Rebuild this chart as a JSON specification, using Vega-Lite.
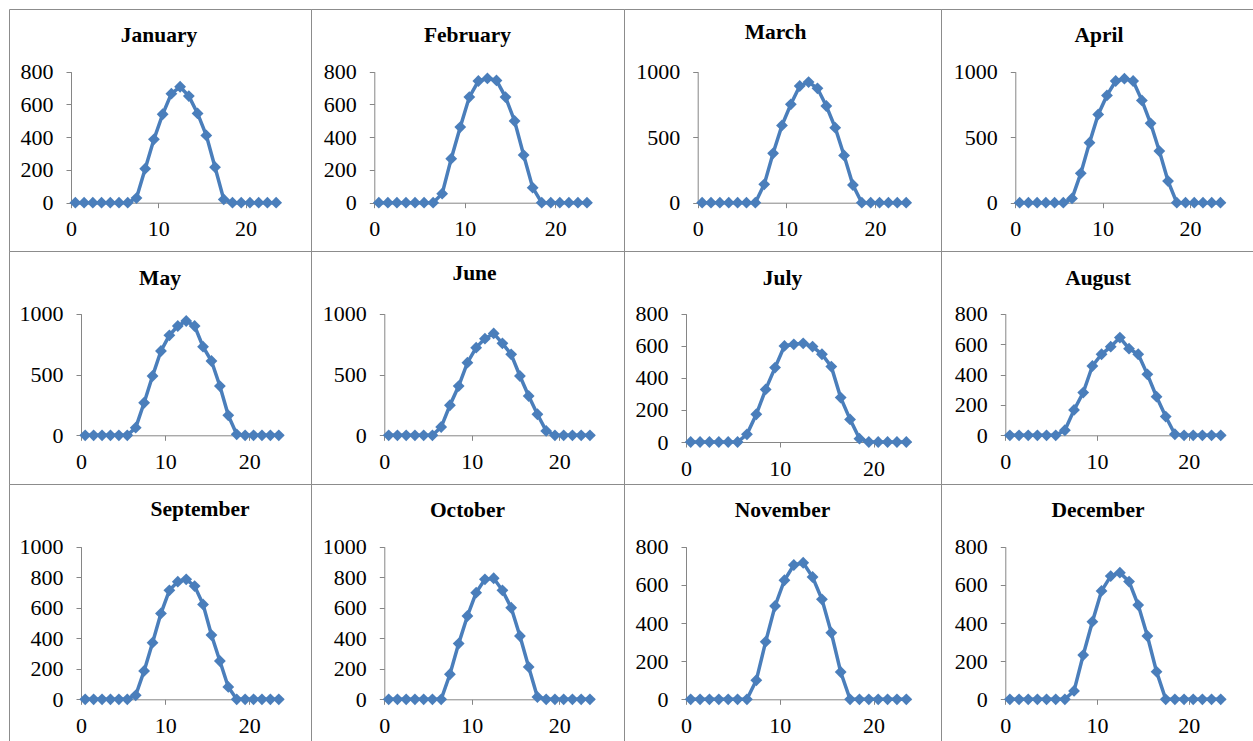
{
"$schema": "https://vega.github.io/schema/vega-lite/v6.json",
"padding": {"left": 8, "top": 8, "right": 0, "bottom": 0},
"background": "white",
"datasets": {"solar": [
{"month":"January","hour":0.5,"value":0},{"month":"January","hour":1.5,"value":0},{"month":"January","hour":2.5,"value":0},{"month":"January","hour":3.5,"value":0},{"month":"January","hour":4.5,"value":0},{"month":"January","hour":5.5,"value":0},{"month":"January","hour":6.5,"value":0},{"month":"January","hour":7.5,"value":28},{"month":"January","hour":8.5,"value":208},{"month":"January","hour":9.5,"value":387},{"month":"January","hour":10.5,"value":540},{"month":"January","hour":11.5,"value":666},{"month":"January","hour":12.5,"value":708},{"month":"January","hour":13.5,"value":651},{"month":"January","hour":14.5,"value":545},{"month":"January","hour":15.5,"value":411},{"month":"January","hour":16.5,"value":217},{"month":"January","hour":17.5,"value":20},{"month":"January","hour":18.5,"value":0},{"month":"January","hour":19.5,"value":0},{"month":"January","hour":20.5,"value":0},{"month":"January","hour":21.5,"value":0},{"month":"January","hour":22.5,"value":0},{"month":"January","hour":23.5,"value":0},
{"month":"February","hour":0.5,"value":0},{"month":"February","hour":1.5,"value":0},{"month":"February","hour":2.5,"value":0},{"month":"February","hour":3.5,"value":0},{"month":"February","hour":4.5,"value":0},{"month":"February","hour":5.5,"value":0},{"month":"February","hour":6.5,"value":0},{"month":"February","hour":7.5,"value":55},{"month":"February","hour":8.5,"value":269},{"month":"February","hour":9.5,"value":462},{"month":"February","hour":10.5,"value":645},{"month":"February","hour":11.5,"value":743},{"month":"February","hour":12.5,"value":759},{"month":"February","hour":13.5,"value":747},{"month":"February","hour":14.5,"value":645},{"month":"February","hour":15.5,"value":499},{"month":"February","hour":16.5,"value":291},{"month":"February","hour":17.5,"value":92},{"month":"February","hour":18.5,"value":0},{"month":"February","hour":19.5,"value":0},{"month":"February","hour":20.5,"value":0},{"month":"February","hour":21.5,"value":0},{"month":"February","hour":22.5,"value":0},{"month":"February","hour":23.5,"value":0},
{"month":"March","hour":0.5,"value":0},{"month":"March","hour":1.5,"value":0},{"month":"March","hour":2.5,"value":0},{"month":"March","hour":3.5,"value":0},{"month":"March","hour":4.5,"value":0},{"month":"March","hour":5.5,"value":0},{"month":"March","hour":6.5,"value":0},{"month":"March","hour":7.5,"value":140},{"month":"March","hour":8.5,"value":377},{"month":"March","hour":9.5,"value":590},{"month":"March","hour":10.5,"value":751},{"month":"March","hour":11.5,"value":891},{"month":"March","hour":12.5,"value":921},{"month":"March","hour":13.5,"value":873},{"month":"March","hour":14.5,"value":738},{"month":"March","hour":15.5,"value":573},{"month":"March","hour":16.5,"value":361},{"month":"March","hour":17.5,"value":135},{"month":"March","hour":18.5,"value":0},{"month":"March","hour":19.5,"value":0},{"month":"March","hour":20.5,"value":0},{"month":"March","hour":21.5,"value":0},{"month":"March","hour":22.5,"value":0},{"month":"March","hour":23.5,"value":0},
{"month":"April","hour":0.5,"value":0},{"month":"April","hour":1.5,"value":0},{"month":"April","hour":2.5,"value":0},{"month":"April","hour":3.5,"value":0},{"month":"April","hour":4.5,"value":0},{"month":"April","hour":5.5,"value":0},{"month":"April","hour":6.5,"value":33},{"month":"April","hour":7.5,"value":224},{"month":"April","hour":8.5,"value":458},{"month":"April","hour":9.5,"value":674},{"month":"April","hour":10.5,"value":819},{"month":"April","hour":11.5,"value":929},{"month":"April","hour":12.5,"value":947},{"month":"April","hour":13.5,"value":929},{"month":"April","hour":14.5,"value":781},{"month":"April","hour":15.5,"value":606},{"month":"April","hour":16.5,"value":394},{"month":"April","hour":17.5,"value":165},{"month":"April","hour":18.5,"value":0},{"month":"April","hour":19.5,"value":0},{"month":"April","hour":20.5,"value":0},{"month":"April","hour":21.5,"value":0},{"month":"April","hour":22.5,"value":0},{"month":"April","hour":23.5,"value":0},
{"month":"May","hour":0.5,"value":0},{"month":"May","hour":1.5,"value":0},{"month":"May","hour":2.5,"value":0},{"month":"May","hour":3.5,"value":0},{"month":"May","hour":4.5,"value":0},{"month":"May","hour":5.5,"value":0},{"month":"May","hour":6.5,"value":63},{"month":"May","hour":7.5,"value":268},{"month":"May","hour":8.5,"value":488},{"month":"May","hour":9.5,"value":693},{"month":"May","hour":10.5,"value":822},{"month":"May","hour":11.5,"value":899},{"month":"May","hour":12.5,"value":940},{"month":"May","hour":13.5,"value":899},{"month":"May","hour":14.5,"value":729},{"month":"May","hour":15.5,"value":611},{"month":"May","hour":16.5,"value":405},{"month":"May","hour":17.5,"value":164},{"month":"May","hour":18.5,"value":8},{"month":"May","hour":19.5,"value":0},{"month":"May","hour":20.5,"value":0},{"month":"May","hour":21.5,"value":0},{"month":"May","hour":22.5,"value":0},{"month":"May","hour":23.5,"value":0},
{"month":"June","hour":0.5,"value":0},{"month":"June","hour":1.5,"value":0},{"month":"June","hour":2.5,"value":0},{"month":"June","hour":3.5,"value":0},{"month":"June","hour":4.5,"value":0},{"month":"June","hour":5.5,"value":0},{"month":"June","hour":6.5,"value":68},{"month":"June","hour":7.5,"value":247},{"month":"June","hour":8.5,"value":405},{"month":"June","hour":9.5,"value":597},{"month":"June","hour":10.5,"value":721},{"month":"June","hour":11.5,"value":795},{"month":"June","hour":12.5,"value":838},{"month":"June","hour":13.5,"value":756},{"month":"June","hour":14.5,"value":666},{"month":"June","hour":15.5,"value":488},{"month":"June","hour":16.5,"value":323},{"month":"June","hour":17.5,"value":173},{"month":"June","hour":18.5,"value":36},{"month":"June","hour":19.5,"value":0},{"month":"June","hour":20.5,"value":0},{"month":"June","hour":21.5,"value":0},{"month":"June","hour":22.5,"value":0},{"month":"June","hour":23.5,"value":0},
{"month":"July","hour":0.5,"value":0},{"month":"July","hour":1.5,"value":0},{"month":"July","hour":2.5,"value":0},{"month":"July","hour":3.5,"value":0},{"month":"July","hour":4.5,"value":0},{"month":"July","hour":5.5,"value":0},{"month":"July","hour":6.5,"value":48},{"month":"July","hour":7.5,"value":173},{"month":"July","hour":8.5,"value":328},{"month":"July","hour":9.5,"value":464},{"month":"July","hour":10.5,"value":599},{"month":"July","hour":11.5,"value":609},{"month":"July","hour":12.5,"value":615},{"month":"July","hour":13.5,"value":595},{"month":"July","hour":14.5,"value":547},{"month":"July","hour":15.5,"value":470},{"month":"July","hour":16.5,"value":277},{"month":"July","hour":17.5,"value":141},{"month":"July","hour":18.5,"value":21},{"month":"July","hour":19.5,"value":0},{"month":"July","hour":20.5,"value":0},{"month":"July","hour":21.5,"value":0},{"month":"July","hour":22.5,"value":0},{"month":"July","hour":23.5,"value":0},
{"month":"August","hour":0.5,"value":0},{"month":"August","hour":1.5,"value":0},{"month":"August","hour":2.5,"value":0},{"month":"August","hour":3.5,"value":0},{"month":"August","hour":4.5,"value":0},{"month":"August","hour":5.5,"value":0},{"month":"August","hour":6.5,"value":33},{"month":"August","hour":7.5,"value":167},{"month":"August","hour":8.5,"value":281},{"month":"August","hour":9.5,"value":456},{"month":"August","hour":10.5,"value":533},{"month":"August","hour":11.5,"value":583},{"month":"August","hour":12.5,"value":643},{"month":"August","hour":13.5,"value":570},{"month":"August","hour":14.5,"value":533},{"month":"August","hour":15.5,"value":401},{"month":"August","hour":16.5,"value":254},{"month":"August","hour":17.5,"value":123},{"month":"August","hour":18.5,"value":7},{"month":"August","hour":19.5,"value":0},{"month":"August","hour":20.5,"value":0},{"month":"August","hour":21.5,"value":0},{"month":"August","hour":22.5,"value":0},{"month":"August","hour":23.5,"value":0},
{"month":"September","hour":0.5,"value":0},{"month":"September","hour":1.5,"value":0},{"month":"September","hour":2.5,"value":0},{"month":"September","hour":3.5,"value":0},{"month":"September","hour":4.5,"value":0},{"month":"September","hour":5.5,"value":0},{"month":"September","hour":6.5,"value":26},{"month":"September","hour":7.5,"value":186},{"month":"September","hour":8.5,"value":371},{"month":"September","hour":9.5,"value":563},{"month":"September","hour":10.5,"value":714},{"month":"September","hour":11.5,"value":771},{"month":"September","hour":12.5,"value":786},{"month":"September","hour":13.5,"value":742},{"month":"September","hour":14.5,"value":622},{"month":"September","hour":15.5,"value":421},{"month":"September","hour":16.5,"value":251},{"month":"September","hour":17.5,"value":81},{"month":"September","hour":18.5,"value":0},{"month":"September","hour":19.5,"value":0},{"month":"September","hour":20.5,"value":0},{"month":"September","hour":21.5,"value":0},{"month":"September","hour":22.5,"value":0},{"month":"September","hour":23.5,"value":0},
{"month":"October","hour":0.5,"value":0},{"month":"October","hour":1.5,"value":0},{"month":"October","hour":2.5,"value":0},{"month":"October","hour":3.5,"value":0},{"month":"October","hour":4.5,"value":0},{"month":"October","hour":5.5,"value":0},{"month":"October","hour":6.5,"value":0},{"month":"October","hour":7.5,"value":164},{"month":"October","hour":8.5,"value":365},{"month":"October","hour":9.5,"value":546},{"month":"October","hour":10.5,"value":699},{"month":"October","hour":11.5,"value":786},{"month":"October","hour":12.5,"value":793},{"month":"October","hour":13.5,"value":714},{"month":"October","hour":14.5,"value":600},{"month":"October","hour":15.5,"value":415},{"month":"October","hour":16.5,"value":212},{"month":"October","hour":17.5,"value":15},{"month":"October","hour":18.5,"value":0},{"month":"October","hour":19.5,"value":0},{"month":"October","hour":20.5,"value":0},{"month":"October","hour":21.5,"value":0},{"month":"October","hour":22.5,"value":0},{"month":"October","hour":23.5,"value":0},
{"month":"November","hour":0.5,"value":0},{"month":"November","hour":1.5,"value":0},{"month":"November","hour":2.5,"value":0},{"month":"November","hour":3.5,"value":0},{"month":"November","hour":4.5,"value":0},{"month":"November","hour":5.5,"value":0},{"month":"November","hour":6.5,"value":0},{"month":"November","hour":7.5,"value":100},{"month":"November","hour":8.5,"value":302},{"month":"November","hour":9.5,"value":489},{"month":"November","hour":10.5,"value":624},{"month":"November","hour":11.5,"value":704},{"month":"November","hour":12.5,"value":716},{"month":"November","hour":13.5,"value":641},{"month":"November","hour":14.5,"value":524},{"month":"November","hour":15.5,"value":349},{"month":"November","hour":16.5,"value":143},{"month":"November","hour":17.5,"value":0},{"month":"November","hour":18.5,"value":0},{"month":"November","hour":19.5,"value":0},{"month":"November","hour":20.5,"value":0},{"month":"November","hour":21.5,"value":0},{"month":"November","hour":22.5,"value":0},{"month":"November","hour":23.5,"value":0},
{"month":"December","hour":0.5,"value":0},{"month":"December","hour":1.5,"value":0},{"month":"December","hour":2.5,"value":0},{"month":"December","hour":3.5,"value":0},{"month":"December","hour":4.5,"value":0},{"month":"December","hour":5.5,"value":0},{"month":"December","hour":6.5,"value":0},{"month":"December","hour":7.5,"value":44},{"month":"December","hour":8.5,"value":232},{"month":"December","hour":9.5,"value":407},{"month":"December","hour":10.5,"value":568},{"month":"December","hour":11.5,"value":646},{"month":"December","hour":12.5,"value":664},{"month":"December","hour":13.5,"value":617},{"month":"December","hour":14.5,"value":494},{"month":"December","hour":15.5,"value":332},{"month":"December","hour":16.5,"value":145},{"month":"December","hour":17.5,"value":0},{"month":"December","hour":18.5,"value":0},{"month":"December","hour":19.5,"value":0},{"month":"December","hour":20.5,"value":0},{"month":"December","hour":21.5,"value":0},{"month":"December","hour":22.5,"value":0},{"month":"December","hour":23.5,"value":0}
]},
"columns": 4,
"spacing": 0,
"bounds": "flush",
"concat": [
{"width":302,"height":242,"title":{"text":"January","offset":-37,"dx":-1},"data":{"name":"solar"},"transform":[{"filter":"datum.month === 'January'"}],
 "encoding":{"x":{"field":"hour","type":"quantitative","scale":{"domain":[0,24],"range":[62,271.5],"nice":false},"axis":{"values":[0,10,20],"offset":-48.3}},
 "y":{"field":"value","type":"quantitative","scale":{"domain":[0,800],"range":[193.7,62.7],"nice":false},"axis":{"values":[0,200,400,600,800],"offset":-62}}},
 "layer":[{"mark":"line"},{"mark":"point"}]},
{"width":313,"height":242,"title":{"text":"February","offset":-37},"data":{"name":"solar"},"transform":[{"filter":"datum.month === 'February'"}],
 "encoding":{"x":{"field":"hour","type":"quantitative","scale":{"domain":[0,24],"range":[63.3,280.5],"nice":false},"axis":{"values":[0,10,20],"offset":-48.3}},
 "y":{"field":"value","type":"quantitative","scale":{"domain":[0,800],"range":[193.7,62.7],"nice":false},"axis":{"values":[0,200,400,600,800],"offset":-63.3}}},
 "layer":[{"mark":"line"},{"mark":"point"}]},
{"width":317,"height":242,"title":{"text":"March","offset":-34,"dx":-7},"data":{"name":"solar"},"transform":[{"filter":"datum.month === 'March'"}],
 "encoding":{"x":{"field":"hour","type":"quantitative","scale":{"domain":[0,24],"range":[73.7,286.6],"nice":false},"axis":{"values":[0,10,20],"offset":-48.3}},
 "y":{"field":"value","type":"quantitative","scale":{"domain":[0,1000],"range":[193.7,62.7],"nice":false},"axis":{"values":[0,500,1000],"offset":-73.7}}},
 "layer":[{"mark":"line"},{"mark":"point"}]},
{"width":314,"height":242,"title":{"text":"April","offset":-37,"dx":1},"data":{"name":"solar"},"transform":[{"filter":"datum.month === 'April'"}],
 "encoding":{"x":{"field":"hour","type":"quantitative","scale":{"domain":[0,24],"range":[74.3,283.8],"nice":false},"axis":{"values":[0,10,20],"offset":-48.3}},
 "y":{"field":"value","type":"quantitative","scale":{"domain":[0,1000],"range":[193.7,62.7],"nice":false},"axis":{"values":[0,500,1000],"offset":-74.3}}},
 "layer":[{"mark":"line"},{"mark":"point"}]},
{"width":302,"height":233,"title":{"text":"May","offset":-38},"data":{"name":"solar"},"transform":[{"filter":"datum.month === 'May'"}],
 "encoding":{"x":{"field":"hour","type":"quantitative","scale":{"domain":[0,24],"range":[72,274],"nice":false},"axis":{"values":[0,10,20],"offset":-48.7}},
 "y":{"field":"value","type":"quantitative","scale":{"domain":[0,1000],"range":[184.3,62.7],"nice":false},"axis":{"values":[0,500,1000],"offset":-72}}},
 "layer":[{"mark":"line"},{"mark":"point"}]},
{"width":313,"height":233,"title":{"text":"June","offset":-33,"dx":7},"data":{"name":"solar"},"transform":[{"filter":"datum.month === 'June'"}],
 "encoding":{"x":{"field":"hour","type":"quantitative","scale":{"domain":[0,24],"range":[73.3,283.3],"nice":false},"axis":{"values":[0,10,20],"offset":-48.7}},
 "y":{"field":"value","type":"quantitative","scale":{"domain":[0,1000],"range":[184.3,62.7],"nice":false},"axis":{"values":[0,500,1000],"offset":-73.3}}},
 "layer":[{"mark":"line"},{"mark":"point"}]},
{"width":317,"height":233,"title":{"text":"July","offset":-38},"data":{"name":"solar"},"transform":[{"filter":"datum.month === 'July'"}],
 "encoding":{"x":{"field":"hour","type":"quantitative","scale":{"domain":[0,24],"range":[62,287],"nice":false},"axis":{"values":[0,10,20],"offset":-42}},
 "y":{"field":"value","type":"quantitative","scale":{"domain":[0,800],"range":[191,62.7],"nice":false},"axis":{"values":[0,200,400,600,800],"offset":-62}}},
 "layer":[{"mark":"line"},{"mark":"point"}]},
{"width":314,"height":233,"title":{"text":"August","offset":-38},"data":{"name":"solar"},"transform":[{"filter":"datum.month === 'August'"}],
 "encoding":{"x":{"field":"hour","type":"quantitative","scale":{"domain":[0,24],"range":[64.3,284.3],"nice":false},"axis":{"values":[0,10,20],"offset":-48.7}},
 "y":{"field":"value","type":"quantitative","scale":{"domain":[0,800],"range":[184.3,62.7],"nice":false},"axis":{"values":[0,200,400,600,800],"offset":-64.3}}},
 "layer":[{"mark":"line"},{"mark":"point"}]},
{"width":302,"height":260,"title":{"text":"September","offset":-36,"dx":40},"data":{"name":"solar"},"transform":[{"filter":"datum.month === 'September'"}],
 "encoding":{"x":{"field":"hour","type":"quantitative","scale":{"domain":[0,24],"range":[72,274],"nice":false},"axis":{"values":[0,10,20],"offset":-44.7}},
 "y":{"field":"value","type":"quantitative","scale":{"domain":[0,1000],"range":[215.3,62.7],"nice":false},"axis":{"values":[0,200,400,600,800,1000],"offset":-72}}},
 "layer":[{"mark":"line"},{"mark":"point"}]},
{"width":313,"height":260,"title":{"text":"October","offset":-37},"data":{"name":"solar"},"transform":[{"filter":"datum.month === 'October'"}],
 "encoding":{"x":{"field":"hour","type":"quantitative","scale":{"domain":[0,24],"range":[73.3,283.3],"nice":false},"axis":{"values":[0,10,20],"offset":-44.7}},
 "y":{"field":"value","type":"quantitative","scale":{"domain":[0,1000],"range":[215.3,62.7],"nice":false},"axis":{"values":[0,200,400,600,800,1000],"offset":-73.3}}},
 "layer":[{"mark":"line"},{"mark":"point"}]},
{"width":317,"height":260,"title":{"text":"November","offset":-37},"data":{"name":"solar"},"transform":[{"filter":"datum.month === 'November'"}],
 "encoding":{"x":{"field":"hour","type":"quantitative","scale":{"domain":[0,24],"range":[62,287],"nice":false},"axis":{"values":[0,10,20],"offset":-44.7}},
 "y":{"field":"value","type":"quantitative","scale":{"domain":[0,800],"range":[215.3,62.7],"nice":false},"axis":{"values":[0,200,400,600,800],"offset":-62}}},
 "layer":[{"mark":"line"},{"mark":"point"}]},
{"width":314,"height":260,"title":{"text":"December","offset":-37},"data":{"name":"solar"},"transform":[{"filter":"datum.month === 'December'"}],
 "encoding":{"x":{"field":"hour","type":"quantitative","scale":{"domain":[0,24],"range":[64.3,284.3],"nice":false},"axis":{"values":[0,10,20],"offset":-44.7}},
 "y":{"field":"value","type":"quantitative","scale":{"domain":[0,800],"range":[215.3,62.7],"nice":false},"axis":{"values":[0,200,400,600,800],"offset":-64.3}}},
 "layer":[{"mark":"line"},{"mark":"point"}]}
],
"config": {
 "view": {"stroke": "#8c8c8c", "strokeWidth": 1},
 "title": {"font": "Liberation Serif", "fontSize": 21.5, "fontWeight": "bold", "color": "#000000", "anchor": "middle", "frame": "group", "baseline": "alphabetic"},
 "axis": {"grid": false, "title": null, "format": "d", "domainColor": "#868686", "tickColor": "#868686", "tickSize": 5, "labelFont": "Liberation Serif", "labelFontSize": 22, "labelColor": "#000000", "labelPadding": 11, "labelFlush": false, "labelOverlap": false},
 "axisY": {"labelPadding": 13},
 "line": {"color": "#4A7EBB", "strokeWidth": 3.5},
 "point": {"color": "#4A7EBB", "filled": true, "shape": "diamond", "size": 140, "opacity": 1}
}
}
